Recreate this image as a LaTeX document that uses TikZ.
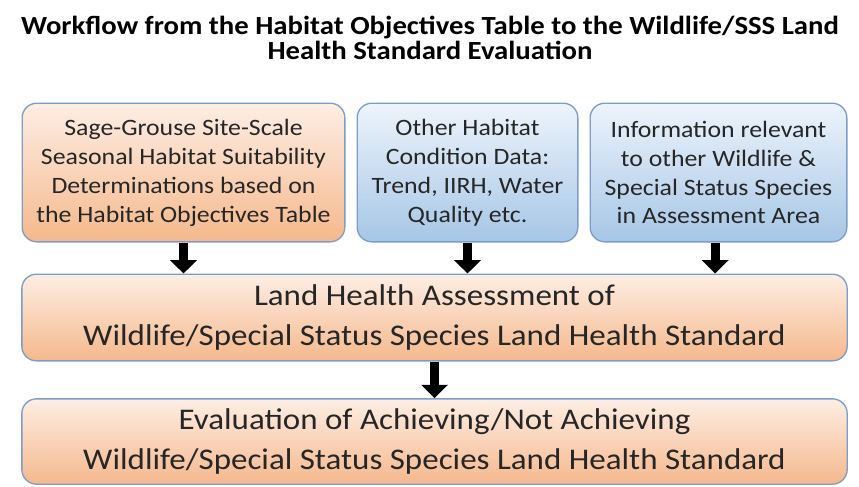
\documentclass[tikz,border=0pt]{standalone}
\usepackage{fontspec}
\setmainfont{Carlito}[FakeStretch=1.10]
\usetikzlibrary{arrows.meta}
\definecolor{peachtop}{HTML}{FDEEE4}
\definecolor{peachbot}{HTML}{F5B88C}
\definecolor{skytop}{HTML}{EDF4FB}
\definecolor{skybot}{HTML}{A6C6E6}
\definecolor{rim}{HTML}{7E9CC8}
\tikzset{
  obox/.style={draw=rim,line width=1pt,rounded corners=11pt,top color=peachtop,bottom color=peachbot,
    align=center,inner sep=0pt,text=black!85},            % orange input box
  bbox/.style={obox,top color=skytop,bottom color=skybot}, % blue input box
  sfont/.style={font=\fontsize{17.6pt}{21.7pt}\selectfont},
  lfont/.style={font=\fontsize{22.5pt}{29.5pt}\selectfont},
  flow/.style={-{Triangle[width=19.5pt,length=10pt]},line width=6.8pt,black},
}
\begin{document}
\begin{tikzpicture}[x=0.75pt,y=-0.75pt]
  \useasboundingbox (0,0) rectangle (859,486);
  \node[font=\bfseries\fontsize{19.6pt}{19pt}\selectfont,align=center] (title) at (430,38)
    {Workflow from the Habitat Objectives Table to the Wildlife/SSS Land\\Health Standard Evaluation};
  % input boxes
  \node[obox,sfont,minimum width=242pt,minimum height=104pt] (sg) at (183.5,172.5)
    {Sage-Grouse Site-Scale\\Seasonal Habitat Suitability\\Determinations based on\\the Habitat Objectives Table};
  \node[bbox,sfont,minimum width=165.5pt,minimum height=104pt] (hab) at (467.5,172.5)
    {Other Habitat\\Condition Data:\\Trend, IIRH, Water\\Quality etc.};
  \node[bbox,sfont,minimum width=192.5pt,minimum height=104pt] (sss) at (718.5,172.5)
    {Information relevant\\to other Wildlife \&\\Special Status Species\\in Assessment Area};
  % assessment and evaluation
  \node[obox,lfont,minimum width=619pt,minimum height=65pt] (lha) at (434.5,317.5)
    {Land Health Assessment of\\Wildlife/Special Status Species Land Health Standard};
  \node[obox,lfont,minimum width=619pt,minimum height=64pt] (eva) at (434.5,441.5)
    {Evaluation of Achieving/Not Achieving\\Wildlife/Special Status Species Land Health Standard};
  \draw[flow] (sg.south) -- (sg.south |- lha.north);
  \draw[flow] (hab.south) -- (hab.south |- lha.north);
  \draw[flow] ([xshift=-2.5pt]sss.south) -- ([xshift=-2.5pt]sss.south |- lha.north);
  \draw[flow] (lha.south) -- (eva.north);
\end{tikzpicture}
\end{document}
